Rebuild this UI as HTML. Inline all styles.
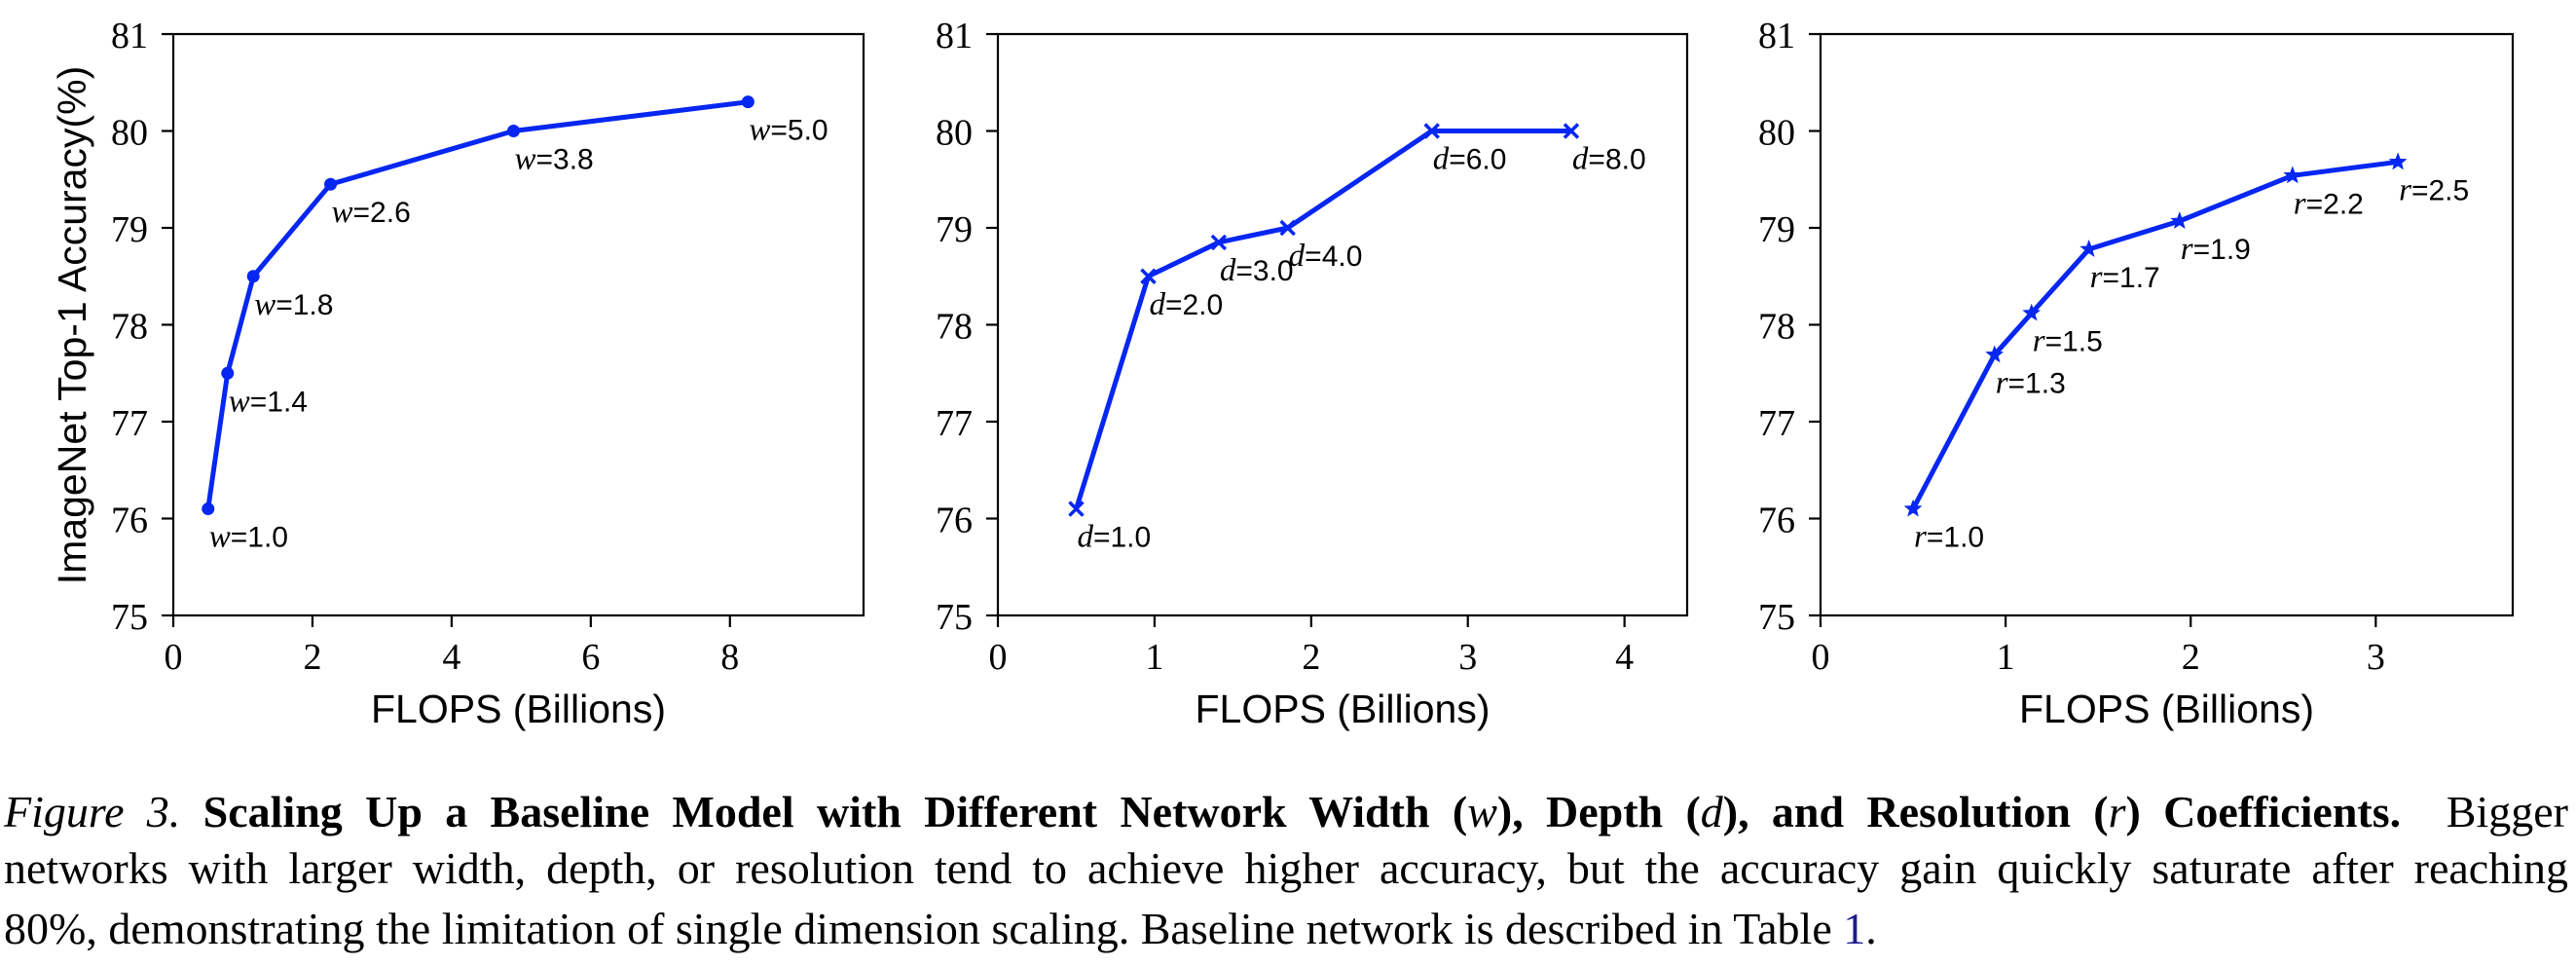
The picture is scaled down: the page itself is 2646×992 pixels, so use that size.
<!DOCTYPE html>
<html><head><meta charset="utf-8">
<style>
html,body{margin:0;padding:0;background:#fff;}
body{width:2646px;height:992px;overflow:hidden;position:relative;}
svg{position:absolute;left:0;top:0;}
.cap{position:absolute;left:4px;width:2634px;font-family:"Liberation Serif",serif;font-size:46px;color:#000;white-space:nowrap;line-height:1;}
.j{text-align:justify;text-align-last:justify;}
</style></head>
<body>
<svg id="chart" width="2646" height="992" xmlns="http://www.w3.org/2000/svg"></svg>

<div class="cap j" style="top:811px"><i>Figure 3.</i> <b>Scaling Up a Baseline Model with Different Network Width (<i style="font-weight:normal">w</i>), Depth (<i style="font-weight:normal">d</i>), and Resolution (<i style="font-weight:normal">r</i>) Coefficients.</b> &nbsp;Bigger</div>
<div class="cap j" style="top:869px">networks with larger width, depth, or resolution tend to achieve higher accuracy, but the accuracy gain quickly saturate after reaching</div>
<div class="cap" style="top:931px">80%, demonstrating the limitation of single dimension scaling. Baseline network is described in Table <span style="color:#1c1c8f">1</span>.</div>

<script>
const wFlops = [0.50, 0.78, 1.15, 2.26, 4.89, 8.26];
const wAcc = [76.1, 77.5, 78.5, 79.45, 80.0, 80.3];
const wLabels = ["1.0", "1.4", "1.8", "2.6", "3.8", "5.0"];
const dFlops = [0.50, 0.96, 1.41, 1.85, 2.77, 3.66];
const dAcc = [76.1, 78.5, 78.85, 79.0, 80.0, 80.0];
const dLabels = ["1.0", "2.0", "3.0", "4.0", "6.0", "8.0"];
const rFlops = [0.50, 0.94, 1.14, 1.45, 1.94, 2.55, 3.12];
const rAcc = [76.1, 77.69, 78.12, 78.78, 79.07, 79.54, 79.68];
const rLabels = ["1.0", "1.3", "1.5", "1.7", "1.9", "2.2", "2.5"];
const yTicks = [75, 76, 77, 78, 79, 80, 81];
const xTicksW = [0, 2, 4, 6, 8];
const xTicksD = [0, 1, 2, 3, 4];
const xTicksR = [0, 1, 2, 3];

const NS = "http://www.w3.org/2000/svg";
const svg = document.getElementById("chart");
const BLUE = "#0626f2";
const TOP = 35, BOT = 632, YMIN = 75, YMAX = 81;
function yScale(v){ return BOT - (v - YMIN) / (YMAX - YMIN) * (BOT - TOP); }
function mk(tag, attrs, parent){
  const e = document.createElementNS(NS, tag);
  for (const k in attrs) e.setAttribute(k, attrs[k]);
  (parent || svg).appendChild(e);
  return e;
}

const panels = [
  {key:"width", x0:178, x1:887, xmax:9.92, xs:wFlops, ys:wAcc, labs:wLabels, sym:"w", ticks:xTicksW, marker:"circle"},
  {key:"depth", x0:1025, x1:1733, xmax:4.40, xs:dFlops, ys:dAcc, labs:dLabels, sym:"d", ticks:xTicksD, marker:"x"},
  {key:"resolution", x0:1870, x1:2581, xmax:3.74, xs:rFlops, ys:rAcc, labs:rLabels, sym:"r", ticks:xTicksR, marker:"star"}
];

panels.forEach(function(p, pi){
  const g = mk("g", {});
  
  
  const xS = function(v){ return p.x0 + v / p.xmax * (p.x1 - p.x0); };

  const frame = mk("rect", {x:p.x0, y:TOP, width:p.x1 - p.x0, height:BOT - TOP, fill:"none", stroke:"#000", "stroke-width":2.2}, g);
  
  

  yTicks.forEach(function(t){
    const y = yScale(t);
    const tk = mk("line", {x1:p.x0 - 12, x2:p.x0, y1:y, y2:y, stroke:"#000", "stroke-width":2.2}, g);
    
    
    const tl = mk("text", {x:p.x0 - 26, y:y + 14, "text-anchor":"end", "font-family":"Liberation Serif, serif", "font-size":38, fill:"#000"}, g);
    
    
    tl.textContent = t;
  });
  p.ticks.forEach(function(t){
    const x = xS(t);
    const tk = mk("line", {x1:x, x2:x, y1:BOT, y2:BOT + 12, stroke:"#000", "stroke-width":2.2}, g);
    
    
    const tl = mk("text", {x:x, y:687, "text-anchor":"middle", "font-family":"Liberation Serif, serif", "font-size":38, fill:"#000"}, g);
    
    
    tl.textContent = t;
  });

  const xt = mk("text", {x:(p.x0 + p.x1) / 2, y:742, "text-anchor":"middle", "font-family":"Liberation Sans, sans-serif", "font-size":41, fill:"#000"}, g);
  
  
  xt.textContent = "FLOPS (Billions)";

  const pts = p.xs.map(function(v, i){ return xS(v).toFixed(1) + "," + yScale(p.ys[i]).toFixed(1); }).join(" ");
  const line = mk("polyline", {points:pts, fill:"none", stroke:BLUE, "stroke-width":5, "stroke-linejoin":"round"}, g);
  
  

  p.xs.forEach(function(v, i){
    const cx = xS(v), cy = yScale(p.ys[i]);
    let m;
    if (p.marker === "circle") {
      m = mk("circle", {cx:cx, cy:cy, r:6.5, fill:BLUE}, g);
    } else if (p.marker === "x") {
      m = mk("path", {d:"M"+(cx-7)+","+(cy-7)+"L"+(cx+7)+","+(cy+7)+"M"+(cx-7)+","+(cy+7)+"L"+(cx+7)+","+(cy-7), stroke:BLUE, "stroke-width":3.5, fill:"none"}, g);
    } else {
      let s = [];
      for (let k = 0; k < 10; k++) {
        const a = -Math.PI / 2 + k * Math.PI / 5;
        const rr = (k % 2 === 0) ? 8.5 : 3.6;
        s.push((cx + rr * Math.cos(a)).toFixed(1) + "," + (cy + rr * Math.sin(a)).toFixed(1));
      }
      m = mk("polygon", {points:s.join(" "), fill:BLUE, stroke:BLUE, "stroke-width":1}, g);
    }
    
    

    const lab = mk("text", {x:cx + 1, y:cy + 39, "font-family":"Liberation Sans, sans-serif", "font-size":30, fill:"#000"}, g);
    
    
    const ts1 = mk("tspan", {"font-family":"Liberation Serif, serif", "font-style":"italic", "font-size":33}, lab);
    ts1.textContent = p.sym;
    const ts2 = mk("tspan", {}, lab);
    ts2.textContent = "=" + p.labs[i];
  });
});

const yt = mk("text", {x:0, y:0, transform:"translate(88,334) rotate(-90)", "text-anchor":"middle", "font-family":"Liberation Sans, sans-serif", "font-size":41, fill:"#000"});


yt.textContent = "ImageNet Top-1 Accuracy(%)";
</script>
</body></html>
